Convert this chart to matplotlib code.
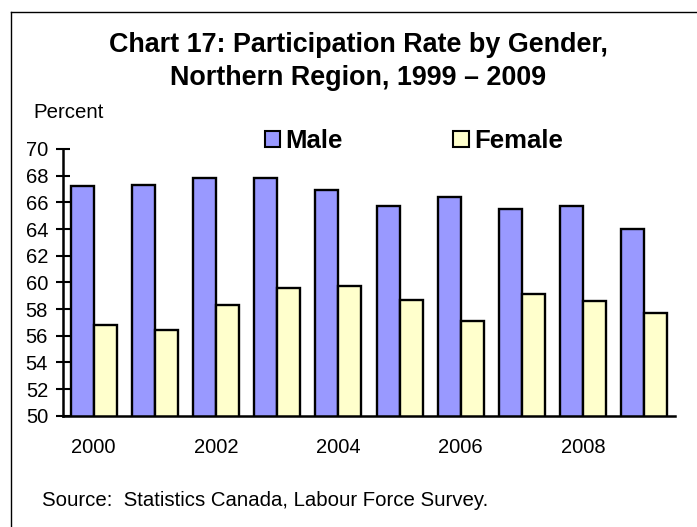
import numpy as np
import matplotlib
matplotlib.use("Agg")
import matplotlib.pyplot as plt
from matplotlib.patches import Patch
from matplotlib.lines import Line2D

plt.rcParams['font.family'] = ['Liberation Sans', 'DejaVu Sans']

years = [2000, 2001, 2002, 2003, 2004, 2005, 2006, 2007, 2008, 2009]
male = [67.2, 67.3, 67.8, 67.8, 66.9, 65.7, 66.4, 65.5, 65.7, 64.0]
female = [56.8, 56.4, 58.3, 59.6, 59.7, 58.7, 57.1, 59.1, 58.6, 57.7]

male_color = '#9999FF'
female_color = '#FFFFCC'

fig = plt.figure(figsize=(6.97, 5.27), dpi=100)
ax = fig.add_axes([63/697, 1 - 415.7/527, 612/697, 266.7/527])

x = np.arange(len(years))
w = 0.375
ax.bar(x - w/2, male, w, color=male_color, edgecolor='black', linewidth=1.7, zorder=3)
ax.bar(x + w/2, female, w, color=female_color, edgecolor='black', linewidth=1.7, zorder=3)

ax.set_xlim(-0.5, len(years) - 0.5)
ax.set_ylim(50, 70)
ax.set_yticks(np.arange(50, 71, 2))
ax.set_xticks(x[::2])
ax.set_xticklabels([str(y) for y in years[::2]])
ax.tick_params(axis='y', direction='inout', length=9.5, width=1.5, labelsize=14.5, pad=6)
ax.tick_params(axis='x', length=0, labelsize=14.5, pad=16)

for s in ['top', 'right']:
    ax.spines[s].set_visible(False)
for s in ['left', 'bottom']:
    ax.spines[s].set_linewidth(1.8)
    ax.spines[s].set_zorder(4)

handles = [Patch(facecolor=male_color, edgecolor='black', linewidth=1.5, label='Male'),
           Patch(facecolor=female_color, edgecolor='black', linewidth=1.5, label='Female')]
fig.legend(handles=handles, loc='center left', bbox_to_anchor=(265/697, 1 - 141/527),
           ncol=2, frameon=False, prop={'weight': 'bold', 'size': 18.5},
           handlelength=0.6, handleheight=0.6, handletextpad=0.2, columnspacing=4.3,
           borderpad=0, borderaxespad=0)

fig.text(358/697, 1 - 45/527, 'Chart 17: Participation Rate by Gender,', ha='center', va='center',
         fontsize=19.4, fontweight='bold')
fig.text(358/697, 1 - 78/527, 'Northern Region, 1999 \u2013 2009', ha='center', va='center',
         fontsize=19.4, fontweight='bold')
fig.text(33/697, 1 - 112/527, 'Percent', ha='left', va='center', fontsize=14.7)
fig.text(42/697, 1 - 501/527, 'Source:  Statistics Canada, Labour Force Survey.', ha='left', va='center',
         fontsize=14.7)

# frame lines (left and top only)
fig.add_artist(Line2D([11/697, 1], [1 - 12/527, 1 - 12/527], color='black', linewidth=1))
fig.add_artist(Line2D([11/697, 11/697], [0, 1 - 12/527], color='black', linewidth=1))

fig.savefig('out.png', dpi=100)
